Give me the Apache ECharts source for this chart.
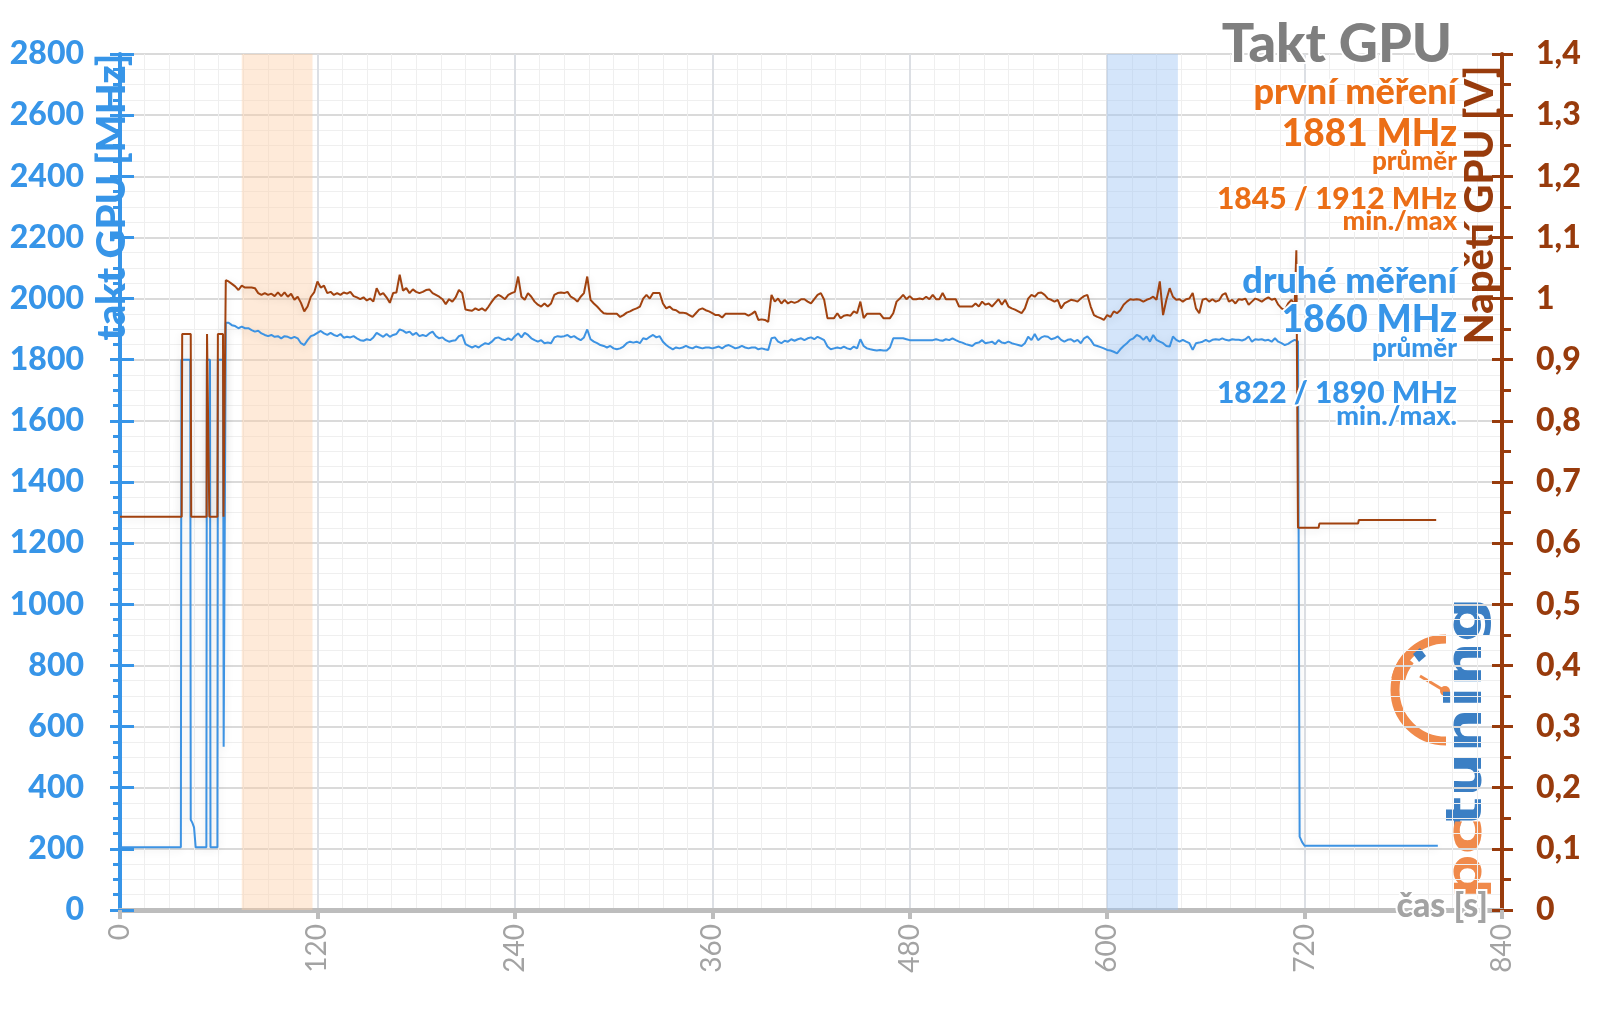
<!DOCTYPE html>
<html>
<head>
<meta charset="utf-8">
<script src="https://cdn.jsdelivr.net/npm/echarts@6/dist/echarts.min.js"></script>
<style>
html,body{margin:0;padding:0;background:#fff;}
#chart{width:1600px;height:1009px;}
</style>
</head>
<body>
<div id="chart"></div>
<script>
// ---------------- DATA ----------------
const xTicks = [0, 120, 240, 360, 480, 600, 720, 840];
const mhzTicks = [0, 200, 400, 600, 800, 1000, 1200, 1400, 1600, 1800, 2000, 2200, 2400, 2600, 2800];
const voltTicks = [0, 0.1, 0.2, 0.3, 0.4, 0.5, 0.6, 0.7, 0.8, 0.9, 1.0, 1.1, 1.2, 1.3, 1.4];

// highlighted windows [start s, end s]
const bandFirst = [74, 117];
const bandSecond = [600, 643];

// idle / load-switch phase before steady load: [time s, value]
const clockStart = [[0,205],[37,205],[37.3,1800],[42.7,1800],[43,295],[44,285],[45,270],[46,205],[52.5,205],[52.8,1800],[54.7,1800],[55,205],[59.2,205],[59.5,1800],[62.7,1800],[63,534],[64.3,1921]];
const voltStart = [[0,0.643],[37.5,0.643],[37.8,0.942],[43,0.942],[43.3,0.643],[52.6,0.643],[52.9,0.942],[54,0.942],[54.3,0.643],[59.2,0.643],[59.5,0.942],[62.6,0.942],[62.9,0.643],[64,0.643],[64.3,1.030]];

// steady load: one sample every 2 s starting at 66 s
const loadStart = 66;
const loadStep = 2;
const clockLoad = [
1921,1913,1910,1903,1908,1903,1903,1897,1892,1895,
1886,1881,1877,1881,1875,1877,1870,1877,1875,1870,
1875,1870,1854,1848,1864,1877,1881,1888,1894,1886,
1881,1888,1881,1877,1884,1872,1875,1873,1877,1870,
1864,1862,1867,1864,1873,1888,1881,1875,1884,1875,
1881,1884,1899,1895,1888,1892,1881,1888,1877,1881,
1877,1886,1892,1877,1870,1873,1864,1859,1862,1864,
1877,1881,1851,1845,1840,1845,1840,1848,1854,1851,
1859,
1870,
1873,1867,1864,1870,1864,1877,1886,1873,1888,1881,
1870,1864,1859,1864,1854,1856,1854,1873,1877,1875,
1877,1881,1873,1877,1870,1864,1873,1899,1867,1859,
1854,1848,1845,1840,1845,1837,1834,1837,1843,1854,
1859,1856,1859,1854,1870,1867,1875,1881,1873,1877,
1859,1848,1840,1834,1840,1837,1840,1845,1840,1837,
1843,1840,1837,1840,1840,1837,1840,1843,1837,1845,
1848,1843,1837,1840,1845,1840,1837,1840,1840,1834,
1837,1834,1832,1870,1873,
1859,1854,1862,1859,1867,1862,1867,1870,1864,1870,
1873,1867,1875,1870,1864,1843,1834,1837,1840,1837,
1843,1837,1834,1843,1837,1867,1845,1837,1834,1832,
1830,1832,1830,1830,1840,1870,1870,1870,1870,1867,
1864,1864,1864,1864,1864,1864,1864,1864,1867,1864,
1862,1867,1864,1870,1864,1859,1856,1851,1848,1845,
1854,1856,1864,1854,1856,1859,1851,1864,1856,1854,
1859,1854,1851,1848,1845,1854,1875,1864,1884,1864,
1873,1877,1875,1867,1870,
1876,
1865,1859,1865,1867,1859,1865,1854,1870,1876,1865,
1848,1845,1841,1837,1832,1830,1826,1821,1834,1845,
1854,1865,1870,1881,1876,1865,1876,1859,1881,1865,
1859,1854,1845,1843,1876,1865,1859,1865,1859,1854,
1832,1854,1856,1859,1865,1859,1865,1867,1865,1870,
1865,1863,1867,1865,1865,1863,1867,1876,1859,1867,
1865,1867,1863,1865,1859,1870,1859,1854,1848,1852,
1859,1865
];
const voltLoad = [
1.028,1.024,1.020,1.014,1.021,1.018,1.018,1.018,1.017,1.009,
1.006,1.009,1.006,1.008,1.004,1.010,1.004,1.010,1.003,1.008,
0.998,1.003,0.993,0.979,0.987,1.003,1.010,1.028,1.018,1.021,
1.009,1.011,1.006,1.009,1.006,1.010,1.008,1.011,1.004,1.002,
0.999,1.002,0.997,1.000,0.995,1.017,1.006,1.009,1.002,0.993,
1.009,1.010,1.039,1.013,1.017,1.009,1.015,1.011,1.009,1.011,
1.014,1.015,1.009,1.006,1.003,0.999,0.991,0.999,0.995,1.002,
1.014,1.009,0.982,0.981,0.980,0.984,0.981,0.984,0.980,0.987,
0.995,
1.002,
1.006,1.003,0.999,1.006,1.009,1.011,1.036,1.003,0.998,1.009,
1.003,0.995,0.990,0.987,0.992,0.987,0.992,1.006,1.009,1.010,
1.009,1.011,1.003,1.000,0.995,1.003,1.009,1.036,0.998,0.992,
0.987,0.981,0.976,0.975,0.975,0.975,0.975,0.970,0.973,0.977,
0.979,0.982,0.984,0.987,1.000,1.006,1.000,1.009,1.009,1.009,
0.992,0.984,0.987,0.982,0.981,0.977,0.977,0.976,0.973,0.970,
0.976,0.982,0.984,0.981,0.979,0.976,0.973,0.973,0.969,0.975,
0.975,0.975,0.975,0.975,0.975,0.975,0.972,0.975,0.979,0.965,
0.966,0.965,0.962,1.006,0.995,
1.000,0.992,0.998,0.992,0.995,0.993,0.995,0.999,0.999,0.995,
0.992,0.999,1.006,1.009,0.998,0.968,0.968,0.968,0.976,0.968,
0.972,0.973,0.972,0.979,0.976,0.995,0.968,0.975,0.975,0.975,
0.975,0.975,0.968,0.968,0.968,0.976,0.995,1.000,1.006,0.999,
1.004,0.999,0.999,1.000,0.999,1.003,0.999,1.006,0.999,0.999,
1.009,0.999,0.999,0.999,0.999,0.987,0.987,0.987,0.987,0.987,
0.992,0.987,0.995,0.990,0.992,0.987,0.993,0.999,0.990,0.998,
0.987,0.984,0.982,0.979,0.976,0.984,1.000,1.006,1.003,1.009,
1.010,1.006,1.000,0.998,0.995,
0.998,
0.984,0.992,0.995,0.998,0.997,0.995,1.000,1.004,1.006,0.987,
0.973,0.970,0.968,0.965,0.973,0.970,0.979,0.976,0.981,0.990,
0.995,0.999,0.998,0.999,0.998,0.995,0.998,1.000,1.003,0.998,
1.028,0.973,0.998,1.017,1.003,0.998,0.999,0.995,0.999,1.000,
1.009,0.984,0.976,0.998,1.000,0.995,0.999,0.995,0.997,1.006,
1.009,0.995,0.998,0.992,0.999,0.998,1.000,0.990,0.995,1.000,
0.998,0.995,0.999,1.002,0.998,1.000,0.990,0.984,0.981,0.992,
0.998,
0.990
];

// end of load and idle afterwards
const clockEnd = [[716,1860],[717,240],[718.5,222],[720,210],[801,210]];
const voltEnd = [[715,1.079],[716,0.625],[728.5,0.625],[729,0.632],[752.5,0.632],[753,0.638],[800,0.638]];

// ---------------- CHART ----------------
const BLUE = '#3795e8';
const BLUE_LINE = '#3d93e3';
const BROWN = '#983b0c';
const BROWN_LINE = '#a1420f';
const ORANGE = '#eb6e16';
const GRAY = '#a3a3a3';
const FONT = 'Lato, "Open Sans", sans-serif';
const W = '900';

function withTimes(arr) { return arr.map((v, i) => [loadStart + i * loadStep, v]); }
const clockData = clockStart.concat(withTimes(clockLoad), clockEnd);
const voltData = voltStart.concat(withTimes(voltLoad), voltEnd);

function voltFmt(v) {
  const r = Math.round(v * 10) / 10;
  if (r === 0) return '0';
  if (r === 1) return '1';
  return r.toFixed(1).replace('.', ',');
}
function mhzFmt(v) { return String(Math.round(v)); }

const chart = echarts.init(document.getElementById('chart'), null, {renderer: 'canvas'});

function txt(x, y, text, fill, size, extra) {
  return Object.assign({type: 'text', x: x, y: y, z: 50,
    style: {text: text, fill: fill, font: W + ' ' + size + 'px ' + FONT, align: 'right', verticalAlign: 'middle', stroke: '#fff', lineWidth: 4}}, extra || {});
}

const option = {
  animation: false,
  backgroundColor: '#ffffff',
  grid: {left: 120, right: 98, top: 54, bottom: 99, containLabel: false},
  xAxis: {
    type: 'value', min: xTicks[0], max: xTicks[xTicks.length - 1], interval: xTicks[1] - xTicks[0],
    axisLine: {show: true, onZero: false, lineStyle: {color: '#bdbdbd', width: 5}},
    axisTick: {show: true, length: 9, lineStyle: {color: '#bdbdbd', width: 4}},
    axisLabel: {rotate: 90, color: GRAY, fontSize: 28, fontFamily: FONT, margin: 14},
    splitLine: {show: true, lineStyle: {color: '#dcdfe4', width: 2}},
    minorTick: {show: true, splitNumber: 8, length: 0, lineStyle: {width: 0}},
    minorSplitLine: {show: true, lineStyle: {color: '#efefef', width: 1}}
  },
  yAxis: [
    {
      type: 'value', position: 'left', min: mhzTicks[0], max: mhzTicks[mhzTicks.length - 1], interval: mhzTicks[1] - mhzTicks[0],
      axisLine: {show: true, lineStyle: {color: BLUE, width: 4}},
      axisTick: {show: true, length: 10, lineStyle: {color: BLUE, width: 3}},
      minorTick: {show: true, splitNumber: 4, length: 7, lineStyle: {color: BLUE, width: 3}},
      minorSplitLine: {show: true, lineStyle: {color: '#efefef', width: 1}},
      axisLabel: {color: BLUE, fontSize: 32, fontWeight: W, fontFamily: FONT, margin: 36, formatter: mhzFmt},
      splitLine: {show: true, lineStyle: {color: '#dadada', width: 2}}
    },
    {
      type: 'value', position: 'right', min: voltTicks[0], max: voltTicks[voltTicks.length - 1], interval: 0.1,
      axisLine: {show: true, lineStyle: {color: BROWN, width: 4}},
      axisTick: {show: true, length: 11, lineStyle: {color: BROWN, width: 3}},
      minorTick: {show: true, splitNumber: 2, length: 9, lineStyle: {color: BROWN, width: 3}},
      axisLabel: {color: BROWN, fontSize: 32, fontWeight: W, fontFamily: FONT, margin: 34, formatter: voltFmt},
      splitLine: {show: false}
    },
    {
      type: 'value', position: 'left', min: mhzTicks[0], max: mhzTicks[mhzTicks.length - 1], interval: mhzTicks[1] - mhzTicks[0],
      axisLine: {show: false}, axisLabel: {show: false}, splitLine: {show: false},
      axisTick: {show: true, inside: true, length: 14, lineStyle: {color: BLUE, width: 3}}
    },
    {
      type: 'value', position: 'right', min: voltTicks[0], max: voltTicks[voltTicks.length - 1], interval: 0.1,
      axisLine: {show: false}, axisLabel: {show: false}, splitLine: {show: false},
      axisTick: {show: true, inside: true, length: 10, lineStyle: {color: BROWN, width: 3}}
    }
  ],
  series: [
    {
      name: 'takt GPU', type: 'line', yAxisIndex: 0, showSymbol: false, symbol: 'none',
      data: clockData,
      lineStyle: {color: BLUE_LINE, width: 2, shadowColor: 'rgba(0,0,0,0.12)', shadowBlur: 8, shadowOffsetY: 2},
      z: 3,
      markArea: {
        silent: true,
        data: [
          [{xAxis: bandFirst[0], itemStyle: {color: 'rgba(252,205,165,0.42)'}}, {xAxis: bandFirst[1]}],
          [{xAxis: bandSecond[0], itemStyle: {color: 'rgba(160,198,245,0.45)'}}, {xAxis: bandSecond[1]}]
        ]
      }
    },
    {
      name: 'Napětí GPU', type: 'line', yAxisIndex: 1, showSymbol: false, symbol: 'none',
      data: voltData,
      lineStyle: {color: BROWN_LINE, width: 2, shadowColor: 'rgba(0,0,0,0.12)', shadowBlur: 8, shadowOffsetY: 2},
      z: 4
    }
  ],
  graphic: [
    // axis names
    {type: 'text', x: 112, y: 197, rotation: Math.PI / 2, z: 50,
     style: {text: 'takt GPU [MHz]', fill: BLUE, font: W + ' 40px ' + FONT, align: 'center', verticalAlign: 'middle'}},
    {type: 'text', x: 1480, y: 205, rotation: Math.PI / 2, z: 50,
     style: {text: 'Napětí GPU [V]', fill: BROWN, font: W + ' 40px ' + FONT, align: 'center', verticalAlign: 'middle'}},
    txt(1488, 906, 'čas [s]', GRAY, 34, {}),
    // annotations
    txt(1452, 45, 'Takt GPU', '#7f7f7f', 54),
    txt(1457, 92, 'první měření', ORANGE, 36),
    txt(1457, 134, '1881 MHz', ORANGE, 37),
    txt(1457, 162, 'průměr', ORANGE, 26),
    txt(1457, 199, '1845 / 1912 MHz', ORANGE, 30),
    txt(1457, 221, 'min./max', ORANGE, 27),
    txt(1457, 281, 'druhé měření', BLUE, 36),
    txt(1457, 320, '1860 MHz', BLUE, 37),
    txt(1457, 349, 'průměr', BLUE, 26),
    txt(1457, 393, '1822 / 1890 MHz', BLUE, 30),
    txt(1457, 416, 'min./max.', BLUE, 27),
    // pctuning logo
    {type: 'group', z: 40, children: [
      {type: 'arc', shape: {cx: 1446, cy: 690, r: 51, startAngle: -Math.PI / 2, endAngle: Math.PI / 2, clockwise: false},
       style: {stroke: '#f08a4b', lineWidth: 9, fill: null}},
      {type: 'arc', shape: {cx: 1446, cy: 690, r: 49, startAngle: -Math.PI * 0.78, endAngle: -Math.PI * 0.93, clockwise: false},
       style: {stroke: '#f08a4b', lineWidth: 14, fill: null}},
      {type: 'line', shape: {x1: 1445, y1: 691, x2: 1420, y2: 676}, style: {stroke: '#f08a4b', lineWidth: 3}},
      {type: 'circle', shape: {cx: 1445, cy: 691, r: 5}, style: {fill: '#f08a4b'}},
      {type: 'polygon', shape: {points: [[1413, 654], [1420, 648], [1426, 656], [1419, 662]]}, style: {fill: '#3b7fc4'}},
      {type: 'text', x: 1468, y: 712, rotation: Math.PI / 2, scaleX: 1.25,
       style: {text: 'tuning', fill: '#3b7fc4', font: 'bold 50px "DejaVu Sans", sans-serif', align: 'center', verticalAlign: 'middle'}},
      {type: 'text', x: 1468, y: 858, rotation: Math.PI / 2, scaleX: 1.25,
       style: {text: 'pc', fill: '#f08a4b', font: 'bold 50px "DejaVu Sans", sans-serif', align: 'center', verticalAlign: 'middle'}}
    ]}
  ]
};
chart.setOption(option);
</script>
</body>
</html>
